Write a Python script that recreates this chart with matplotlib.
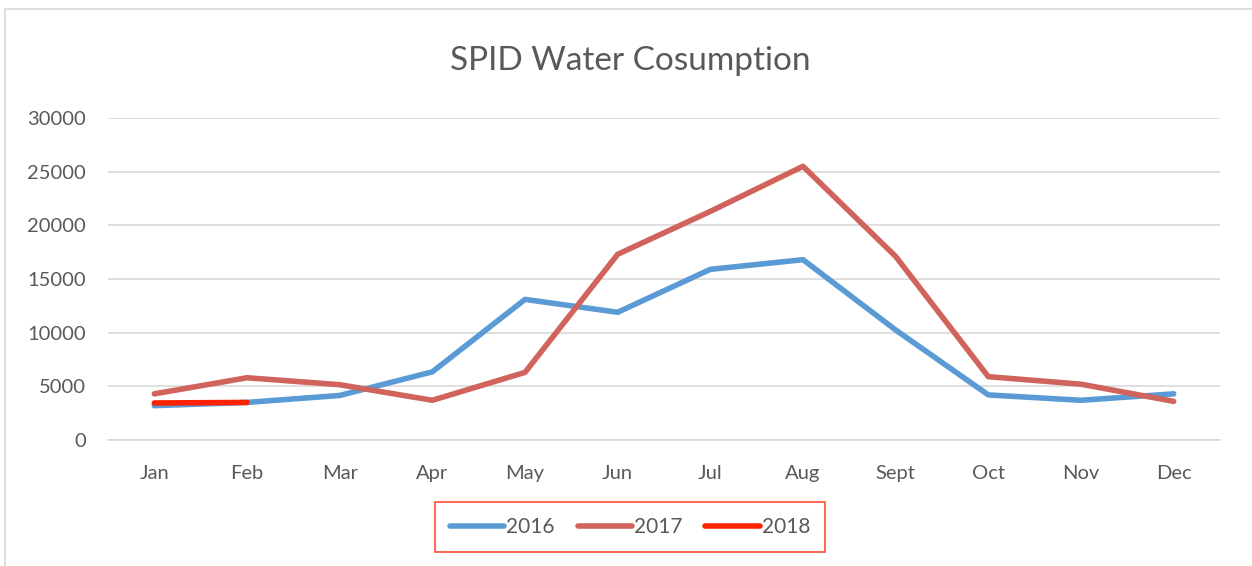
import matplotlib.pyplot as plt
from matplotlib.patches import Rectangle

# data
months = ['Jan', 'Feb', 'Mar', 'Apr', 'May', 'Jun', 'Jul', 'Aug', 'Sept', 'Oct', 'Nov', 'Dec']
y2016 = [3200, 3500, 4150, 6350, 13100, 11900, 15900, 16800, 10250, 4200, 3700, 4300]
y2017 = [4300, 5800, 5150, 3700, 6300, 17300, 21300, 25500, 17100, 5900, 5200, 3600]
y2018 = [3450, 3500]
yticks = [0, 5000, 10000, 15000, 20000, 25000, 30000]

plt.rcParams['font.family'] = ['Lato', 'DejaVu Sans']
text_color = '#595959'

fig = plt.figure(figsize=(12.52, 5.66), dpi=100)
ax = fig.add_axes([108 / 1252, 1 - 440 / 566, (1220 - 108) / 1252, (440 - 118) / 566])

# outer chart border (only top and left are visible in the crop)
fig.patches.append(Rectangle((5 / 1252, -0.1), 1.2, 1 - 9 / 566 + 0.1, transform=fig.transFigure,
                             fill=False, edgecolor='#d9d9d9', linewidth=1.2))

x = list(range(len(months)))
ax.plot(x, y2016, color='#5b9bd5', lw=4, solid_capstyle='round', label='2016')
ax.plot(x, y2017, color='#d0635c', lw=4, solid_capstyle='round', label='2017')
ax.plot(x[:len(y2018)], y2018, color='#ff2200', lw=4, solid_capstyle='round', label='2018')

ax.set_xlim(-0.5, len(months) - 0.5)
ax.set_ylim(0, 30000)
ax.set_yticks(yticks)
ax.set_xticks(x)
ax.set_xticklabels(months)
ax.grid(axis='y', color='#d9d9d9', lw=1.2)
ax.set_axisbelow(True)
for s in ['top', 'right', 'left']:
    ax.spines[s].set_visible(False)
ax.spines['bottom'].set_color('#d9d9d9')
ax.spines['bottom'].set_linewidth(1.2)
ax.tick_params(axis='both', length=0, labelsize=14.5, labelcolor=text_color)
ax.tick_params(axis='y', pad=16)
ax.tick_params(axis='x', pad=18)

fig.text(630 / 1252, 1 - 61 / 566, 'SPID Water Cosumption', ha='center', va='center',
         fontsize=24, color=text_color)

leg = fig.legend(loc='center', bbox_to_anchor=(630 / 1252, 1 - 527 / 566), ncol=3,
                 frameon=True, fontsize=15, handlelength=2.6, columnspacing=1.1,
                 handletextpad=0.1, borderpad=0.7, fancybox=False, labelcolor=text_color)
leg.get_frame().set_edgecolor('#ff2200')
leg.get_frame().set_linewidth(1.2)

fig.savefig('out.png', dpi=100)
